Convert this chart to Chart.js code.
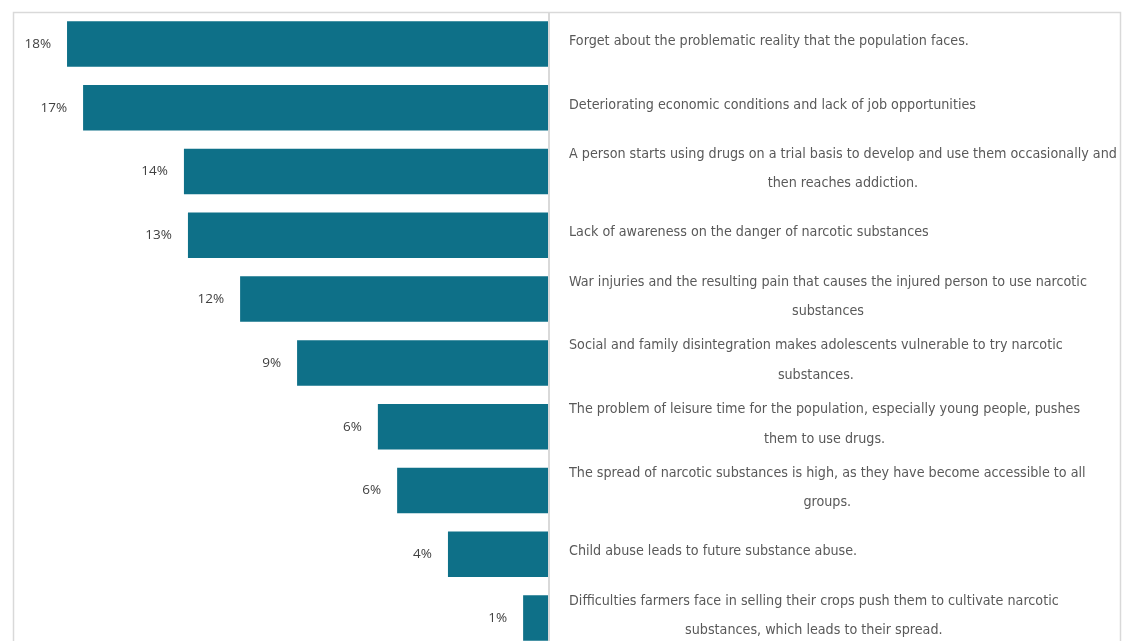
<!DOCTYPE html>
<html>
<head>
<meta charset="utf-8">
<script src="https://cdn.jsdelivr.net/npm/chart.js@4"></script>
<style>
  html, body { margin: 0; padding: 0; background: #ffffff; overflow: hidden; }
  #wrap { width: 1122px; height: 641px; overflow: hidden; }
</style>
</head>
<body>
<div id="wrap"><canvas id="c" width="1122" height="700"></canvas></div>
<script>
// Reasons for drug use, share of responses (%)
const categories = [
  ["Forget about the problematic reality that the population faces."],
  ["Deteriorating economic conditions and lack of job opportunities"],
  ["A person starts using drugs on a trial basis to develop and use them occasionally and", "then reaches addiction."],
  ["Lack of awareness on the danger of narcotic substances"],
  ["War injuries and the resulting pain that causes the injured person to use narcotic", "substances"],
  ["Social and family disintegration makes adolescents vulnerable to try narcotic", "substances."],
  ["The problem of leisure time for the population, especially young people, pushes", "them to use drugs."],
  ["The spread of narcotic substances is high, as they have become accessible to all", "groups."],
  ["Child abuse leads to future substance abuse."],
  ["Difficulties farmers face in selling their crops push them to cultivate narcotic", "substances, which leads to their spread."]
];
const shares = [17.98, 17.38, 13.61, 13.46, 11.51, 9.38, 6.36, 5.64, 3.74, 0.93];
const axisRange = [0, 20];

const BAR_COLOR = '#0e7088';
const FRAME_COLOR = '#d9d9d9';
const CAT_FONT = '14.2px "Liberation Sans Narrow", "DejaVu Sans Condensed", sans-serif';
const VAL_FONT = '13.5px "Open Sans", "DejaVu Sans", sans-serif';

// Frame around the plot plus the vertical baseline at zero
const framePlugin = {
  id: 'frame',
  beforeDatasetsDraw(chart) {
    const { ctx, chartArea } = chart;
    const x0 = chart.scales.x.getPixelForValue(0);
    ctx.save();
    ctx.strokeStyle = FRAME_COLOR;
    ctx.lineWidth = 1.5;
    ctx.strokeRect(chartArea.left + 0.5, chartArea.top + 0.5, 1120 - chartArea.left, chartArea.bottom + 20);
    ctx.lineWidth = 2;
    ctx.beginPath();
    ctx.moveTo(x0 + 1, chartArea.top);
    ctx.lineTo(x0 + 1, chartArea.bottom + 20);
    ctx.stroke();
    ctx.restore();
  }
};

// Percentage labels at the outer end of each bar
const valueLabelPlugin = {
  id: 'valueLabels',
  afterDatasetsDraw(chart) {
    const { ctx } = chart;
    const meta = chart.getDatasetMeta(0);
    ctx.save();
    ctx.font = VAL_FONT;
    ctx.fillStyle = '#404040';
    ctx.textAlign = 'right';
    ctx.textBaseline = 'middle';
    meta.data.forEach((bar, i) => {
      ctx.fillText(Math.round(shares[i]) + '%', bar.x - 16, bar.y);
    });
    ctx.restore();
  }
};

// Category text to the right of the baseline, lines centred within each block
const categoryLabelPlugin = {
  id: 'categoryLabels',
  afterDraw(chart) {
    const { ctx, chartArea } = chart;
    const yScale = chart.scales.y;
    const left = chartArea.right + 21;
    const lineH = 29.5;
    ctx.save();
    ctx.font = CAT_FONT;
    ctx.fillStyle = '#595959';
    ctx.textAlign = 'center';
    ctx.textBaseline = 'middle';
    categories.forEach((lines, i) => {
      const yc = yScale.getPixelForValue(i) - 2.5;
      const maxW = Math.max(...lines.map(l => ctx.measureText(l).width));
      const cx = left + maxW / 2;
      const y0 = yc - (lines.length - 1) * lineH / 2;
      lines.forEach((l, k) => ctx.fillText(l, cx, y0 + k * lineH));
    });
    ctx.restore();
  }
};

new Chart(document.getElementById('c'), {
  type: 'bar',
  data: {
    labels: categories.map(c => c.join(' ')),
    datasets: [{
      data: shares,
      backgroundColor: BAR_COLOR,
      borderWidth: 0,
      barPercentage: 0.713,
      categoryPercentage: 1
    }]
  },
  options: {
    indexAxis: 'y',
    responsive: false,
    animation: false,
    layout: { padding: { left: 13, top: 12, right: 574, bottom: 50 } },
    plugins: { legend: { display: false }, tooltip: { enabled: false }, title: { display: false } },
    scales: {
      x: { display: false, reverse: true, min: axisRange[0], max: axisRange[1] },
      y: { display: false }
    }
  },
  plugins: [framePlugin, valueLabelPlugin, categoryLabelPlugin]
});
</script>
</body>
</html>
